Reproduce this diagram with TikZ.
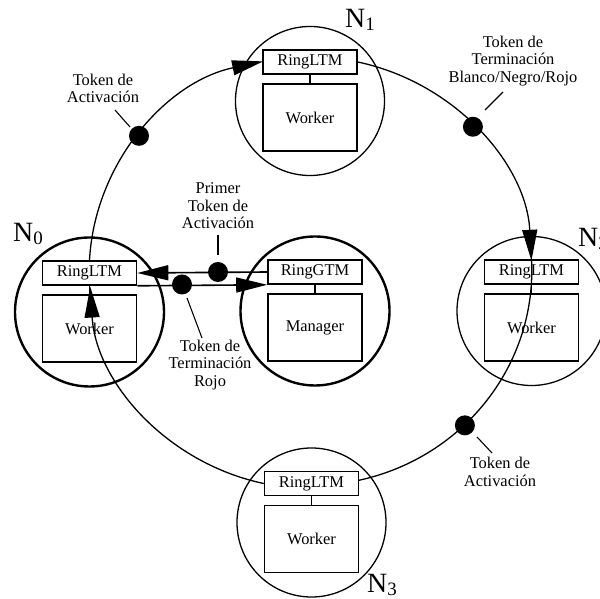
\documentclass[tikz,border=0pt]{standalone}
\usepackage{fontspec}
\setmainfont{Liberation Serif}
\usetikzlibrary{arrows.meta}
\begin{document}
\begin{tikzpicture}[x=1bp,y=1bp,
  txt/.style={font=\fontsize{16.5}{17.5}\selectfont},
  ringbox/.style={draw, line width=1.6bp, minimum width=94bp, minimum height=24bp, inner sep=0pt, txt},
  workbox/.style={draw, line width=1.6bp, minimum width=94bp, minimum height=67bp, inner sep=0pt, txt},
  thinnode/.style={circle, draw, line width=1.3bp, minimum size=149bp, inner sep=0pt},
  thicknode/.style={circle, draw, line width=2.4bp, minimum size=149bp, inner sep=0pt},
  ringarc/.style={line width=1.3bp},
  tip/.style={-{Triangle[length=31bp,width=15bp]}},
  token/.style={circle, fill=black, minimum size=20bp, inner sep=0pt},
  lbl/.style={txt, align=center, inner sep=0pt},
  tick/.style={line width=1.1bp},
  link/.style={line width=1.3bp},
  nlabel/.style={font=\fontsize{28}{28}\selectfont, anchor=base west, inner sep=0pt}]
\useasboundingbox (0,0) rectangle (600,599);
\clip (0,0) rectangle (600,599);

% node circles
\node[thinnode]  (n1) at (310,498) {};
\node[thicknode] (n0) at (89.5,287) {};
\node[thicknode] (nm) at (315,288) {};
\node[thinnode]  (n2) at (531.5,288) {};
\node[thinnode]  (n3) at (311.5,76.5) {};

% boxes
\node[ringbox] (r1) at (310,537) {RingLTM};
\node[workbox] (w1) at (310,481.5) {Worker};
\node[ringbox] (r0) at (89.5,326) {RingLTM};
\node[workbox] (w0) at (89.5,270.5) {Worker};
\node[ringbox] (rm) at (315,327) {RingGTM};
\node[workbox] (wm) at (315,271.5) {Manager};
\node[ringbox] (r2) at (531.5,327) {RingLTM};
\node[workbox] (w2) at (531.5,271.5) {Worker};
\node[ringbox] (r3) at (311.5,115.5) {RingLTM};
\node[workbox] (w3) at (311.5,60) {Worker};

\draw[link] (r1.south) -- (w1.north);
\draw[link] (r0.south) -- (w0.north);
\draw[link] (rm.south) -- (wm.north);
\draw[link] (r2.south) -- (w2.north);
\draw[link] (r3.south) -- (w3.north);

% node names
\node[nlabel] (N1) at (345,571) {N\raisebox{-3bp}{\fontsize{19}{19}\selectfont 1}};
\node[nlabel] (N0) at (13,357) {N\raisebox{-3bp}{\fontsize{19}{19}\selectfont 0}};
\node[nlabel] (N2) at (578,352) {N\raisebox{-3bp}{\fontsize{19}{19}\selectfont 2}};
\node[nlabel] (N3) at (367,6) {N\raisebox{-3bp}{\fontsize{19}{19}\selectfont 3}};

% ring arcs
\draw[ringarc, tip] (r0.north) arc[start angle=177, end angle=102.3, x radius=221, y radius=215];
\draw[ringarc, tip] (r1.east) arc[start angle=77.7, end angle=3, x radius=221, y radius=215];
\draw[ringarc] (r2.north) arc[start angle=3, end angle=-77.4, x radius=221, y radius=215];
\draw[ringarc, tip] (r3.west) arc[start angle=-102.3, end angle=-176.5, x radius=221, y radius=215];

% manager links
\draw[link, line width=1.6bp, tip] (rm.west) -- (r0.east);
\draw[link, line width=1.6bp, tip] (r0.south east) -- (rm.south west);

% tokens
\node[token] (d1) at ({310+221*cos(140.7)},{327+215*sin(140.7)}) {};
\node[token] (d2) at ({310+221*cos(42.5)},{327+215*sin(42.5)}) {};
\node[token] (d3) at ({310+221*cos(-45.5)},{327+215*sin(-45.5)}) {};
\node[token] (du) at (218,327) {};
\node[token] (dl) at (182,314.5) {};

% labels
\node[lbl] (L1) at (103,510.5) {Token de\\Activación};
\node[lbl] (L2) at (513,538) {Token de\\Terminación\\Blanco/Negro/Rojo};
\node[lbl] (L3) at (500,127) {Token de\\Activación};
\node[lbl] (Lp) at (218,393) {Primer\\Token de\\Activación};
\node[lbl] (Lr) at (210,234) {Token de\\Terminación\\Rojo};

% ticks
\coordinate (t1a) at (115,489); \coordinate (t1b) at (130,472);
\coordinate (t2a) at (503,507); \coordinate (t2b) at (485,489);
\coordinate (t3a) at (492,146); \coordinate (t3b) at (477,162);
\coordinate (tpa) at (218,364); \coordinate (tpb) at (218,344);
\coordinate (tra) at (202,261); \coordinate (trb) at (187,301);
\draw[tick] (t1a) -- (t1b);
\draw[tick] (t2a) -- (t2b);
\draw[tick] (t3a) -- (t3b);
\draw[tick] (tpa) -- (tpb);
\draw[tick] (tra) -- (trb);
\end{tikzpicture}
\end{document}
